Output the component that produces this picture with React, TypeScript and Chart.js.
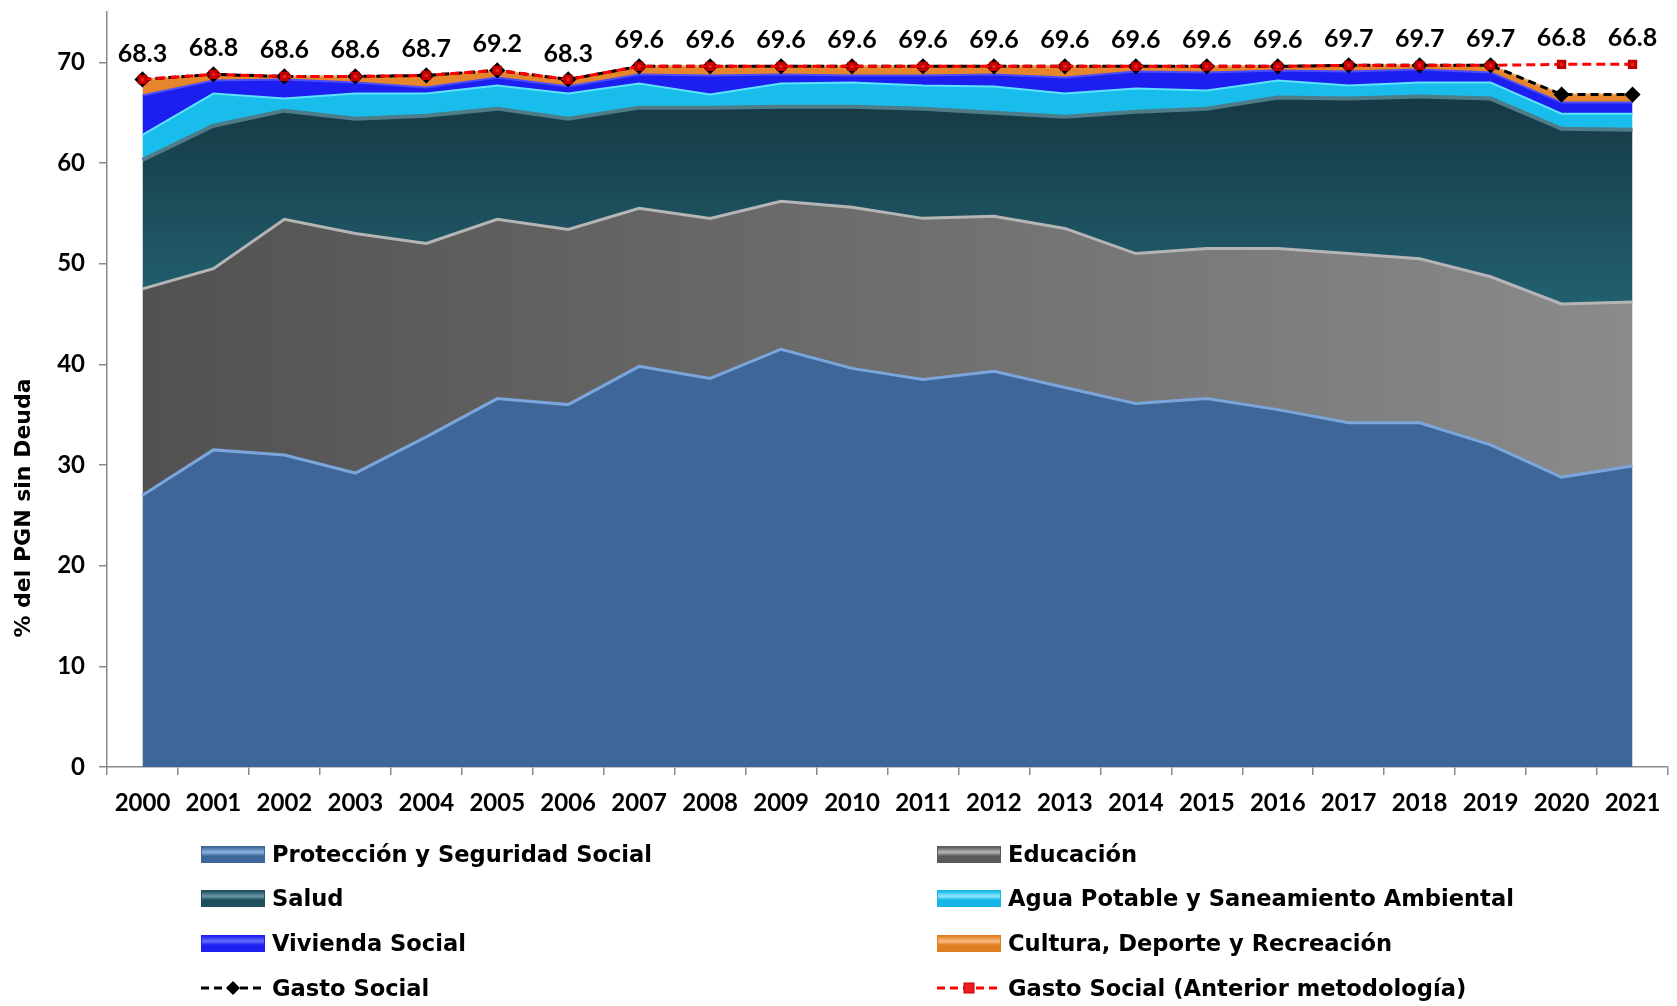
import React, { useEffect, useRef } from 'react';
import { Chart, registerables } from 'chart.js';

Chart.register(...registerables);

const years = ['2000', '2001', '2002', '2003', '2004', '2005', '2006', '2007', '2008', '2009', '2010', '2011', '2012', '2013', '2014', '2015', '2016', '2017', '2018', '2019', '2020', '2021'];

const proteccion = [27.0, 31.5, 31.0, 29.2, 32.8, 36.6, 36.0, 39.8, 38.6, 41.5, 39.6, 38.5, 39.3, 37.7, 36.1, 36.6, 35.5, 34.2, 34.2, 32.0, 28.8, 29.9];
const educacion = [20.5, 18.0, 23.4, 23.8, 19.2, 17.8, 17.4, 15.7, 15.9, 14.7, 16.0, 16.0, 15.4, 15.8, 14.9, 14.9, 16.0, 16.8, 16.3, 16.7, 17.2, 16.3];
const salud = [12.8, 14.2, 10.8, 11.4, 12.7, 11.0, 11.0, 10.0, 11.0, 9.4, 10.0, 10.9, 10.3, 11.1, 14.1, 13.9, 15.0, 15.4, 16.1, 17.7, 17.4, 17.1];
const agua = [2.5, 3.2, 1.2, 2.5, 2.2, 2.3, 2.5, 2.4, 1.3, 2.3, 2.4, 2.3, 2.6, 2.3, 2.3, 1.8, 1.7, 1.3, 1.4, 1.6, 1.5, 1.6];
const vivienda = [3.9, 1.3, 1.9, 1.1, 0.6, 0.8, 0.7, 0.9, 1.9, 0.9, 0.7, 1.0, 1.2, 1.6, 1.7, 1.8, 1.0, 1.4, 1.3, 1.0, 1.1, 1.1];
const cultura = [1.6, 0.6, 0.3, 0.6, 1.2, 0.7, 0.7, 0.8, 0.9, 0.8, 0.9, 0.9, 0.8, 1.1, 0.5, 0.6, 0.4, 0.6, 0.4, 0.7, 0.8, 0.8];
const gastoSocial = [68.3, 68.8, 68.6, 68.6, 68.7, 69.2, 68.3, 69.6, 69.6, 69.6, 69.6, 69.6, 69.6, 69.6, 69.6, 69.6, 69.6, 69.7, 69.7, 69.7, 66.8, 66.8];
const gastoAnterior = [68.3, 68.8, 68.6, 68.6, 68.7, 69.2, 68.3, 69.6, 69.6, 69.6, 69.6, 69.6, 69.6, 69.6, 69.6, 69.6, 69.6, 69.7, 69.7, 69.7, 69.8, 69.8];

const yTicks = [0, 10, 20, 30, 40, 50, 60, 70];
const yTitle = '% del PGN sin Deuda';

const seriesLabels = {
  proteccion: 'Protección y Seguridad Social',
  educacion: 'Educación',
  salud: 'Salud',
  agua: 'Agua Potable y Saneamiento Ambiental',
  vivienda: 'Vivienda Social',
  cultura: 'Cultura, Deporte y Recreación',
  gasto: 'Gasto Social',
  anterior: 'Gasto Social (Anterior metodología)',
};

const FONT = "Lato, 'DejaVu Sans', sans-serif";
const TEXT_FONT = "'DejaVu Sans', Lato, sans-serif";

const eduFill = (c: any) => {
  const chart = c.chart;
  const area = chart.chartArea;
  if (!area) return '#6a6a6a';
  const g = chart.ctx.createLinearGradient(area.left, 0, area.right, 0);
  g.addColorStop(0, '#505050');
  g.addColorStop(1, '#8c8c8c');
  return g;
};

const saludFill = (c: any) => {
  const chart = c.chart;
  const area = chart.chartArea;
  const ys = chart.scales && chart.scales.y;
  if (!area || !ys) return '#1d4f5c';
  const g = chart.ctx.createLinearGradient(0, ys.getPixelForValue(66), 0, ys.getPixelForValue(46));
  g.addColorStop(0, '#163a46');
  g.addColorStop(1, '#22606f');
  return g;
};

const dataLabelPlugin = {
  id: 'dataLabels',
  afterDatasetsDraw(chart: any) {
    const ctx = chart.ctx;
    const metaBlack = chart.getDatasetMeta(6);
    const metaRed = chart.getDatasetMeta(7);
    ctx.save();
    ctx.font = `bold 25px ${FONT}`;
    ctx.fillStyle = '#000';
    ctx.textAlign = 'center';
    ctx.textBaseline = 'middle';
    metaBlack.data.forEach((pt: any, i: number) => {
      const red = metaRed.data[i];
      const y = Math.min(pt.y, red ? red.y : pt.y) - 26;
      ctx.fillText(gastoSocial[i].toFixed(1), pt.x, y);
    });
    ctx.restore();
  },
};

const yTitlePlugin = {
  id: 'yTitle',
  afterDraw(chart: any) {
    const ctx = chart.ctx;
    ctx.save();
    ctx.translate(24, 508);
    ctx.rotate(-Math.PI / 2);
    ctx.font = `bold 22px ${TEXT_FONT}`;
    ctx.fillStyle = '#000';
    ctx.textAlign = 'center';
    ctx.textBaseline = 'middle';
    ctx.fillText(yTitle, 0, 0);
    ctx.restore();
  },
};

const areaBase = {
  fill: '-1',
  pointRadius: 0,
  pointHoverRadius: 0,
  tension: 0,
  stack: 'areas',
  order: 1,
};

function ChartCanvas() {
  const ref = useRef<HTMLCanvasElement | null>(null);
  useEffect(() => {
    if (!ref.current) return;
    const chart = new Chart(ref.current, {
      type: 'line',
      data: {
        labels: years,
        datasets: [
          { ...areaBase, label: seriesLabels.proteccion, data: proteccion, fill: 'origin', backgroundColor: '#3e6698', borderColor: '#7ba6dc', borderWidth: 3 },
          { ...areaBase, label: seriesLabels.educacion, data: educacion, backgroundColor: eduFill, borderColor: '#b5b5b5', borderWidth: 3 },
          { ...areaBase, label: seriesLabels.salud, data: salud, backgroundColor: saludFill, borderColor: '#4e7c88', borderWidth: 4 },
          { ...areaBase, label: seriesLabels.agua, data: agua, backgroundColor: '#18bdec', borderColor: '#5fe2ff', borderWidth: 2 },
          { ...areaBase, label: seriesLabels.vivienda, data: vivienda, backgroundColor: '#1c1ff0', borderColor: '#4a4cff', borderWidth: 2 },
          { ...areaBase, label: seriesLabels.cultura, data: cultura, backgroundColor: '#e5862c', borderColor: '#f2a45c', borderWidth: 2 },
          {
            label: seriesLabels.gasto, data: gastoSocial, stack: 'g1', order: -1, fill: false,
            borderColor: '#000', borderWidth: 3, borderDash: [8, 5], tension: 0,
            pointStyle: 'rectRot', pointRadius: 6, pointBackgroundColor: '#000', pointBorderColor: '#000',
          },
          {
            label: seriesLabels.anterior, data: gastoAnterior, stack: 'g2', order: -2, fill: false,
            borderColor: '#ff0000', borderWidth: 3, borderDash: [9, 5], tension: 0,
            pointStyle: 'rect', pointRadius: 4.5, pointBackgroundColor: '#ee1c1c', pointBorderColor: '#c00000',
          },
        ],
      },
      options: {
        responsive: false,
        animation: false,
        events: [],
        layout: { padding: { left: 0, right: 0, top: 12, bottom: 179 } },
        plugins: { legend: { display: false }, tooltip: { enabled: false }, title: { display: false } },
        scales: {
          x: {
            type: 'category',
            offset: true,
            grid: { offset: true, drawOnChartArea: false, drawTicks: true, tickLength: 8, color: '#8a8a8a', lineWidth: 1.5 },
            border: { display: true, color: '#8a8a8a', width: 1.5 },
            ticks: { color: '#000', font: { family: FONT, size: 24, weight: 'bold' }, padding: 14, maxRotation: 0, autoSkip: false },
            afterFit: (s: any) => { s.height = 60; s.paddingLeft = 0; s.paddingRight = 0; },
          },
          y: {
            stacked: true,
            min: 0,
            max: 75,
            afterBuildTicks: (s: any) => { s.ticks = yTicks.map((v) => ({ value: v })); },
            grid: { drawOnChartArea: false, drawTicks: true, tickLength: 8, color: '#8a8a8a', lineWidth: 1.5 },
            border: { display: true, color: '#8a8a8a', width: 1.5 },
            ticks: { color: '#000', font: { family: FONT, size: 24, weight: 'bold' }, padding: 14 },
            afterFit: (s: any) => { s.width = 107; s.paddingTop = 0; s.paddingBottom = 0; },
          },
        },
      },
      plugins: [dataLabelPlugin, yTitlePlugin],
    } as any);
    return () => chart.destroy();
  }, []);
  return <canvas ref={ref} width={1677} height={1006} style={{ position: 'absolute', left: 0, top: 0, width: 1677, height: 1006 }} />;
}

type LegendItem = { label: string; kind: string; color: string; hi: string; col: number; row: number };

const legendItems: LegendItem[] = [
  { label: seriesLabels.proteccion, kind: 'box', color: '#3e6698', hi: '#8db3e3', col: 0, row: 0 },
  { label: seriesLabels.educacion, kind: 'box', color: '#5a5a5a', hi: '#b8b8b8', col: 1, row: 0 },
  { label: seriesLabels.salud, kind: 'box', color: '#1d4f5c', hi: '#6b98a3', col: 0, row: 1 },
  { label: seriesLabels.agua, kind: 'box', color: '#16b6e6', hi: '#8eeaff', col: 1, row: 1 },
  { label: seriesLabels.vivienda, kind: 'box', color: '#1c1ff0', hi: '#6a6cff', col: 0, row: 2 },
  { label: seriesLabels.cultura, kind: 'box', color: '#e07f22', hi: '#f7bb80', col: 1, row: 2 },
  { label: seriesLabels.gasto, kind: 'black', color: '#000', hi: '#000', col: 0, row: 3 },
  { label: seriesLabels.anterior, kind: 'red', color: '#ff0000', hi: '#ff0000', col: 1, row: 3 },
];

const colX = [201, 937];
const rowY = [854, 898, 943, 988];

function Legend() {
  return (
    <>
      {legendItems.map((it) => {
        const x = colX[it.col];
        const cy = rowY[it.row];
        let sym: any;
        if (it.kind === 'box') {
          sym = (
            <div style={{
              width: 64, height: 17, boxSizing: 'border-box',
              border: `1px solid ${it.color}`,
              background: `linear-gradient(to bottom, ${it.color} 0%, ${it.hi} 35%, ${it.color} 60%, ${it.color} 100%)`,
            }} />
          );
        } else if (it.kind === 'black') {
          sym = (
            <svg width={64} height={20}>
              <line x1={0} y1={10} x2={64} y2={10} stroke="#000" strokeWidth={3} strokeDasharray="8 5" />
              <polygon points="32,3 39,10 32,17 25,10" fill="#000" />
            </svg>
          );
        } else {
          sym = (
            <svg width={64} height={20}>
              <line x1={0} y1={10} x2={64} y2={10} stroke="#ff0000" strokeWidth={3} strokeDasharray="8 5" />
              <rect x={27} y={5} width={10} height={10} fill="#ee1c1c" stroke="#c00000" strokeWidth={1} />
            </svg>
          );
        }
        return (
          <div key={it.label} style={{ position: 'absolute', left: x, top: cy - 16, height: 32, display: 'flex', alignItems: 'center', whiteSpace: 'nowrap' }}>
            {sym}
            <span style={{ marginLeft: 7, font: `bold 22.6px ${TEXT_FONT}`, color: '#000' }}>{it.label}</span>
          </div>
        );
      })}
    </>
  );
}

export default function App() {
  return (
    <div style={{ position: 'absolute', left: 0, top: 0, width: 1677, height: 1006, background: '#fff', overflow: 'hidden' }}>
      <ChartCanvas />
      <Legend />
    </div>
  );
}
